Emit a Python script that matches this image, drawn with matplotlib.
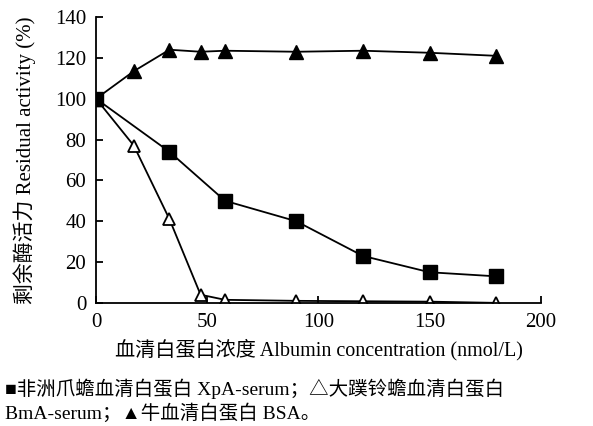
import matplotlib
import matplotlib.pyplot as plt

matplotlib.use('Agg')

fonts = ['Liberation Serif', 'Noto Sans CJK SC']
plt.rcParams['font.family'] = fonts

# XpA-serum (filled squares)
xpa_x = [0, 33, 58, 90, 120, 150, 180]
xpa_y = [100, 74, 50, 40, 23, 15, 13]

# BmA-serum (open triangles)
bma_x = [0, 17, 33, 47, 58, 90, 120, 150, 180]
bma_y = [100, 77, 41, 4, 1.5, 1, 0.8, 0.6, 0]

# BSA (filled triangles)
bsa_x = [0, 17, 33, 47, 58, 90, 120, 150, 180]
bsa_y = [100, 113.5, 124, 123, 123.5, 123, 123.5, 122.5, 121]

fig = plt.figure(figsize=(5.93, 4.26), dpi=100)
ax = fig.add_axes([0.162, 0.289, 0.75, 0.671])

ax.plot(xpa_x, xpa_y, color='black', lw=1.3, marker='s', ms=10, mfc='black', mec='black', zorder=3)
ax.plot(bma_x, bma_y, color='black', lw=1.3, marker='^', ms=8.5, mfc='white', mec='black', mew=1.3, zorder=2)
ax.plot(bsa_x, bsa_y, color='black', lw=1.3, marker='^', ms=10, mfc='black', mec='black', zorder=3)

ax.set_xlim(0, 200)
ax.set_ylim(0, 140)
ax.set_xticks([0, 50, 100, 150, 200])
ax.set_yticks(range(0, 141, 20))
ax.spines['top'].set_visible(False)
ax.spines['right'].set_visible(False)
for s in ('left', 'bottom'):
    ax.spines[s].set_linewidth(1.3)
ax.tick_params(direction='in', length=5, width=1.3, labelsize=15, pad=7)

ax.set_xlabel('血清白蛋白浓度 Albumin concentration (nmol/L)', fontsize=14.5, labelpad=5)
ax.set_ylabel('剩余酶活力 Residual activity (%)', fontsize=15, labelpad=14)

fig.text(0.008, 0.088, '■非洲爪蟾血清白蛋白 XpA-serum；△大蹼铃蟾血清白蛋白', fontsize=14, va='center')
fig.text(0.008, 0.03, 'BmA-serum；▲牛血清白蛋白 BSA。', fontsize=14, va='center')

fig.savefig('out.png', dpi=100)
